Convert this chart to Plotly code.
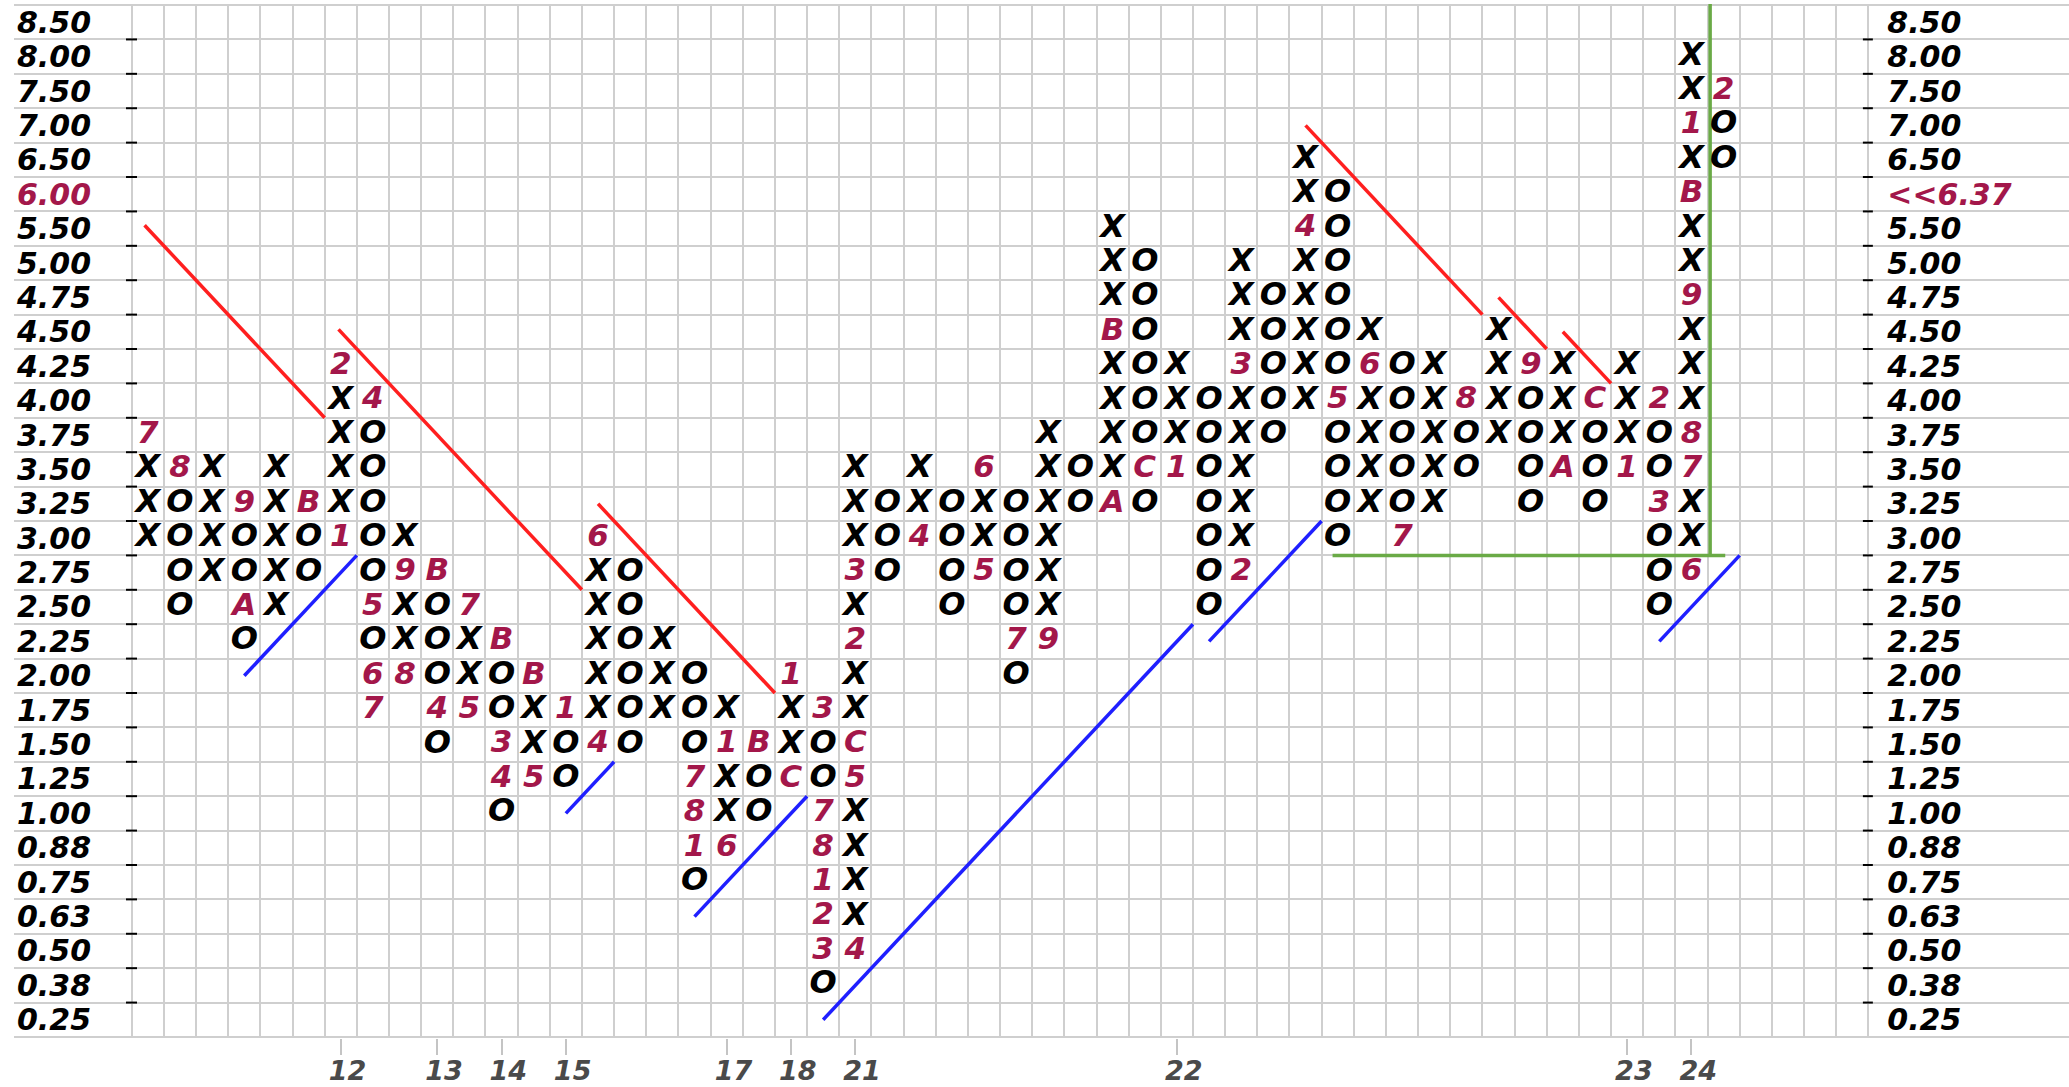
import plotly.graph_objects as go

# ---------------- data ----------------
price_labels = ["0.25", "0.38", "0.50", "0.63", "0.75", "0.88", "1.00", "1.25", "1.50", "1.75",
                "2.00", "2.25", "2.50", "2.75", "3.00", "3.25", "3.50", "3.75", "4.00", "4.25",
                "4.50", "4.75", "5.00", "5.50", "6.00", "6.50", "7.00", "7.50", "8.00", "8.50"]
last_price_label = "&lt;&lt;6.37"
last_price_row = 24

# each column: first (lowest) row index and the boxes from bottom to top
# X / O = boxes, other characters = month markers (1-9, A, B, C)
col_start = [14, 12, 13, 11, 12, 13, 14, 9, 10, 8,
             9, 6, 7, 7, 8, 8, 9, 4, 5, 6,
             7, 1, 2, 13, 14, 12, 13, 10, 11, 15,
             15, 15, 16, 12, 13, 17, 18, 14, 15, 14,
             15, 16, 17, 15, 16, 15, 16, 12, 13, 25]
col_boxes = ["XXX7", "OOOO8", "XXXX", "OAOO9", "XXXXX", "OOB", "1XXXX2", "76O5OOOOO4", "8XX9X", "O4OOOB",
             "5XX7", "O43OOB", "5XXB", "OO1", "4XXXXX6", "OOOOOO", "XXX", "O187OOO", "6XX1X", "OOB",
             "CXX1", "O32187OO3", "4XXXX5CXX2X3XXX", "OOO", "4XX", "OOOO", "5XX6", "O7OOOO", "9XXXXXX", "OO",
             "AXXXXBXXX", "OCOOOOOO", "1XXX", "OOOOOOO", "2XXXXX3XXX", "OOOOO", "XXXXX4XX", "OOOO5OOOOOO", "XXXX6X", "7OOOOO",
             "XXXXX", "OO8", "XXXX", "OOOO9", "AXXX", "OOOC", "1XXX", "OOO3OO2", "6XX78XXX9XXBX1XX", "OO2"]

year_cols = [6, 9, 11, 13, 18, 20, 22, 32, 46, 48]
year_labels = ["12", "13", "14", "15", "17", "18", "21", "22", "23", "24"]

# trend lines in (column, row) box units: x0, y0, x1, y1
resistance_lines = [(-0.1, 23.1, 5.5, 17.5), (5.93, 20.07, 13.5, 12.5), (14.0, 15.0, 19.5, 9.5),
                    (36.0, 26.0, 41.5, 20.5), (42.0, 21.0, 43.5, 19.5), (44.0, 20.0, 45.5, 18.5)]
support_lines = [(3.0, 10.0, 6.5, 13.5), (13.0, 6.0, 14.5, 7.5), (17.0, 3.0, 20.5, 6.5),
                 (21.0, 0.0, 32.5, 11.5), (33.0, 11.0, 36.5, 14.5), (47.0, 11.0, 49.5, 13.5)]
target_lines = [(36.84, 13.5, 49.05, 13.5), (48.58, 13.5, 48.58, 29.6)]

# ---------------- styling ----------------
N_COLS = 54
N_ROWS = len(price_labels)
GRID = "#cfcfcf"
MONTH_RED = "#a3174a"
FAM = "DejaVu Sans"
mark_font = dict(family=FAM, size=32, color="black", weight="bold", style="italic")
month_font = dict(family=FAM, size=31, color=MONTH_RED, weight="bold", style="italic")
label_font = dict(family=FAM, size=30, color="black", weight="bold", style="italic")

X_RANGE = [-4.16, 59.739]
Y_RANGE = [-0.53, N_ROWS - 0.47]

# ---------------- build marks ----------------
xx, xy, ox, oy, mx, my, mt = [], [], [], [], [], [], []
for c, (s, boxes) in enumerate(zip(col_start, col_boxes)):
    for i, ch in enumerate(boxes):
        r = s + i
        if ch == "X":
            xx.append(c); xy.append(r)
        elif ch == "O":
            ox.append(c); oy.append(r)
        else:
            mx.append(c); my.append(r); mt.append(ch)


def seg_xy(lines):
    xs, ys = [], []
    for x0, y0, x1, y1 in lines:
        xs += [x0, x1, None]
        ys += [y0, y1, None]
    return xs, ys


fig = go.Figure()

for lines, color in [(resistance_lines, "#ff1f1f"), (support_lines, "#1f1fff"), (target_lines, "#6aaa46")]:
    lx, ly = seg_xy(lines)
    fig.add_trace(go.Scatter(x=lx, y=ly, mode="lines", line=dict(color=color, width=3.5),
                             hoverinfo="skip", showlegend=False))

# small tick dashes on the price scales (at row boundaries)
tl = [(-0.677, r + 0.5, -0.335, r + 0.5) for r in range(N_ROWS - 1)]
tr = [(N_COLS - 0.5 - 0.17, r + 0.5, N_COLS - 0.5 + 0.14, r + 0.5) for r in range(N_ROWS - 1)]
tx, ty = seg_xy(tl + tr)
fig.add_trace(go.Scatter(x=tx, y=ty, mode="lines", line=dict(color="black", width=2),
                         hoverinfo="skip", showlegend=False))

fig.add_trace(go.Scatter(x=xx, y=xy, mode="text", text=["X"] * len(xx), textfont=mark_font,
                         textposition="middle center", hoverinfo="skip", showlegend=False, cliponaxis=False))
fig.add_trace(go.Scatter(x=ox, y=oy, mode="text", text=["O"] * len(ox), textfont=mark_font,
                         textposition="middle center", hoverinfo="skip", showlegend=False, cliponaxis=False))
fig.add_trace(go.Scatter(x=mx, y=my, mode="text", text=mt, textfont=month_font,
                         textposition="middle center", hoverinfo="skip", showlegend=False, cliponaxis=False))
# invisible trace so the right price axis is rendered
fig.add_trace(go.Scatter(x=[0], y=[0], yaxis="y2", mode="markers", marker=dict(opacity=0),
                         hoverinfo="skip", showlegend=False))

left_text = [f'<span style="color:{MONTH_RED}">{t}</span>' if i == last_price_row else t
             for i, t in enumerate(price_labels)]
right_text = [f'<span style="color:{MONTH_RED}">{last_price_label}</span>' if i == last_price_row else t
              for i, t in enumerate(price_labels)]
year_text = ["\u2002" + t for t in year_labels]

fig.update_layout(
    width=2069, height=1087,
    margin=dict(l=14, r=0, t=4, b=49, pad=0, autoexpand=False),
    plot_bgcolor="white", paper_bgcolor="white",
    showlegend=False,
    xaxis=dict(
        range=X_RANGE, tickmode="array", tickvals=year_cols, ticktext=year_text,
        ticks="outside", ticklen=16, tickwidth=2, tickcolor="#c4c4c4", ticklabelstandoff=-7,
        tickfont=dict(family=FAM, size=27, color="#4a4a4a", weight="bold", style="italic"),
        showgrid=False, zeroline=False, showline=False, fixedrange=True, automargin=False,
        minor=dict(tickmode="array", tickvals=[X_RANGE[0] + 0.03] + [c - 0.5 for c in range(N_COLS + 1)],
                   showgrid=True, gridcolor=GRID, gridwidth=2, ticks=""),
    ),
    yaxis=dict(
        range=Y_RANGE, tickmode="array", tickvals=list(range(N_ROWS)), ticktext=left_text,
        ticks="", ticklabelposition="inside", ticklabelstandoff=0, tickfont=label_font,
        showgrid=False, zeroline=False, showline=False, fixedrange=True, automargin=False,
        minor=dict(tickmode="array", tickvals=[r - 0.5 for r in range(N_ROWS + 1)],
                   showgrid=True, gridcolor=GRID, gridwidth=2, ticks=""),
    ),
    yaxis2=dict(
        range=Y_RANGE, overlaying="y", side="right", anchor="free",
        position=(1868.3 - 14) / 2055,
        tickmode="array", tickvals=list(range(N_ROWS)), ticktext=right_text,
        ticks="", ticklabelstandoff=18, tickfont=label_font,
        showgrid=False, zeroline=False, showline=False, fixedrange=True, automargin=False,
    ),
)

fig.write_html("out.html", config={"displayModeBar": False},
               post_script="document.body.style.margin='0px';document.body.style.overflow='hidden';")
